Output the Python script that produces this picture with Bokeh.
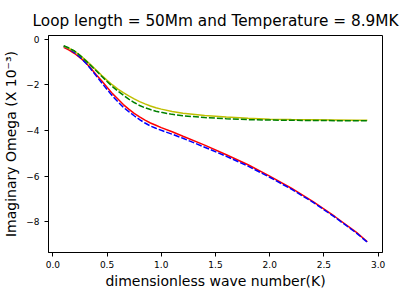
from bokeh.plotting import figure
from bokeh.models import FixedTicker, Range1d
from bokeh.embed import file_html
from bokeh.resources import INLINE

k = [0.1, 0.15, 0.2, 0.25, 0.3, 0.35, 0.4, 0.45, 0.5, 0.55, 0.6, 0.65, 0.7, 0.75, 0.8, 0.85, 0.9, 0.95, 1.0,
     1.1, 1.2, 1.4, 1.6, 1.8, 2.0, 2.2, 2.4, 2.6, 2.8, 2.9]
red = [-0.35, -0.47, -0.62, -0.8, -1.0, -1.27, -1.55, -1.82, -2.1, -2.38, -2.62, -2.86, -3.06, -3.25, -3.4,
       -3.54, -3.67, -3.77, -3.87, -4.05, -4.25, -4.64, -5.06, -5.5, -6.0, -6.53, -7.12, -7.77, -8.47, -8.88]
blue = [-0.3, -0.42, -0.58, -0.78, -1.02, -1.3, -1.6, -1.9, -2.2, -2.48, -2.74, -2.98, -3.17, -3.35, -3.52,
        -3.67, -3.8, -3.9, -3.99, -4.16, -4.34, -4.73, -5.13, -5.56, -6.05, -6.57, -7.15, -7.8, -8.5, -8.9]
yellow = [-0.3, -0.4, -0.52, -0.7, -0.9, -1.12, -1.35, -1.58, -1.8, -2.0, -2.18, -2.34, -2.48, -2.61, -2.73,
          -2.83, -2.92, -3.0, -3.06, -3.16, -3.24, -3.34, -3.41, -3.46, -3.5, -3.52, -3.53, -3.54, -3.55, -3.55]
green = [-0.28, -0.38, -0.51, -0.7, -0.92, -1.15, -1.38, -1.62, -1.85, -2.07, -2.27, -2.45, -2.62, -2.77, -2.9,
         -3.0, -3.08, -3.15, -3.2, -3.29, -3.35, -3.43, -3.48, -3.52, -3.54, -3.55, -3.56, -3.565, -3.57, -3.57]

x_ticks = [0.0, 0.5, 1.0, 1.5, 2.0, 2.5, 3.0]
y_ticks = [0, -2, -4, -6, -8]

FONT = "DejaVu Sans"

p = figure(width=409, height=293, output_backend="svg", toolbar_location=None,
           x_range=Range1d(-0.04, 3.04), y_range=Range1d(-9.35, 0.17),
           min_border_left=48, min_border_right=27, min_border_top=35, min_border_bottom=41)

p.title.text = "Loop length = 50Mm and Temperature = 8.9MK"
p.title.text_font = FONT
p.title.text_font_size = "15.3px"
p.title.text_font_style = "normal"
p.title.text_color = "black"
p.title.align = "center"
p.title.offset = 0
p.title.standoff = 11

p.line(k, red, line_color="#ff0000", line_width=1.5)
p.line(k, blue, line_color="#0000ff", line_width=1.5, line_dash="6 2")
p.line(k, yellow, line_color="#bfbf00", line_width=1.5)
p.line(k, green, line_color="#008000", line_width=1.5, line_dash="6 2")

p.xgrid.visible = False
p.ygrid.visible = False
p.outline_line_color = "black"
p.outline_line_alpha = 1
p.outline_line_width = 1

p.xaxis.ticker = FixedTicker(ticks=x_ticks)
p.yaxis.ticker = FixedTicker(ticks=y_ticks)
p.xaxis.major_label_overrides = {t: f"{t:.1f}" for t in x_ticks}
p.yaxis.major_label_overrides = {t: (str(t).replace("-", "\u2212")) for t in y_ticks}

for ax in (p.xaxis[0], p.yaxis[0]):
    ax.minor_tick_line_color = None
    ax.major_tick_in = 0
    ax.major_tick_out = 4
    ax.major_label_text_font = FONT
    ax.major_label_text_font_size = "9px"
    ax.major_label_text_color = "black"
    ax.axis_label_text_font = FONT
    ax.axis_label_text_font_size = "14px"
    ax.axis_label_text_font_style = "normal"
    ax.axis_label_text_color = "black"
    ax.axis_line_color = "black"
    ax.major_tick_line_color = "black"

p.xaxis.major_label_standoff = 4
p.yaxis.major_label_standoff = 5
p.xaxis.axis_label = "dimensionless wave number(K)"
p.yaxis.axis_label = "Imaginary Omega (X 10\u207b\u00b3)"
p.xaxis.axis_label_standoff = 2
p.yaxis.axis_label_standoff = 4

open("out.html", "w").write(file_html(p, INLINE))
